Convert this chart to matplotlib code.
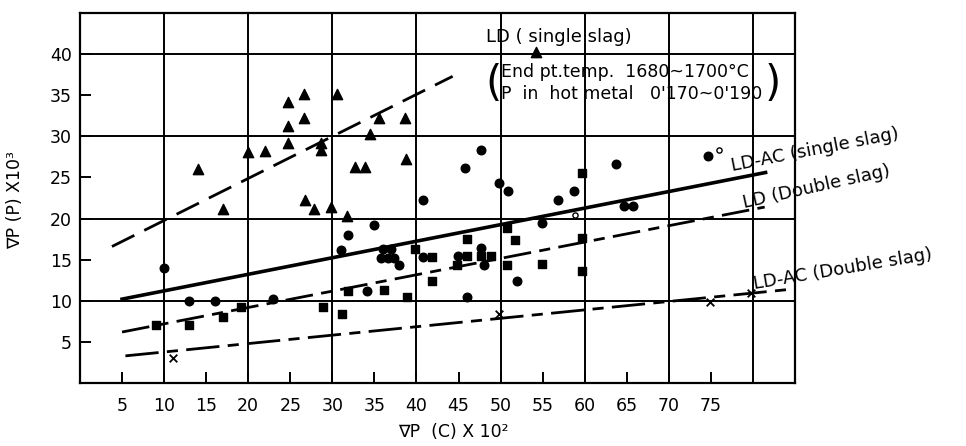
import matplotlib
matplotlib.use('Agg')
from matplotlib import pyplot

# LD (single slag) - triangles
tri_x = [14, 17, 20, 22, 24.7, 24.7, 24.7, 26.6, 26.6, 28.7, 28.7, 26.8, 27.8,
         29.8, 31.8, 30.5, 35.5, 38.6, 34.5, 32.7, 33.9, 38.7]
tri_y = [26, 21.2, 28.1, 28.2, 34.2, 31.3, 29.2, 35.1, 32.2, 29.2, 28.3, 22.3,
         21.2, 21.4, 20.3, 35.1, 32.2, 32.2, 30.3, 26.3, 26.3, 27.2]

# LD-AC (single slag) - circles
circ_x = [10, 13, 16, 23, 40.8, 35, 31.9, 31, 36, 37, 35.8, 36.6, 37.3, 37.9,
          40.8, 34.1, 47.7, 45.8, 49.8, 50.9, 56.8, 58.7, 54.9, 47.7, 44.9, 48,
          52, 46, 63.7, 74.7, 64.7, 65.7]
circ_y = [14, 10, 10, 10.2, 22.2, 19.2, 18, 16.2, 16.3, 16.3, 15.2, 15.2, 15.2,
          14.3, 15.3, 11.2, 28.3, 26.2, 24.3, 23.3, 22.3, 23.4, 19.4, 16.4, 15.4,
          14.4, 12.4, 10.4, 26.6, 27.6, 21.5, 21.5]
open_x = [58.8, 76]
open_y = [20.4, 28.3]

# LD (Double slag) - squares
sq_x = [9, 13, 17, 19.1, 28.9, 31.1, 31.9, 36.1, 38.9, 39.8, 59.7, 50.8, 51.7,
        59.7, 46, 41.9, 46, 47.7, 48.9, 44.8, 50.8, 54.9, 41.9, 59.7]
sq_y = [7, 7, 8, 9.2, 9.2, 8.4, 11.2, 11.3, 10.4, 16.3, 25.6, 18.9, 17.4, 17.6,
        17.5, 15.3, 15.4, 15.4, 15.4, 14.3, 14.4, 14.5, 12.4, 13.6]

# LD-AC (Double slag) - crosses
x_x = [11, 49.8, 74.9, 79.8]
x_y = [3.1, 8.4, 9.8, 10.9]

# fitted lines (end points)
ld_single_x = [3.8, 44.3]
ld_single_y = [16.6, 37.3]
ldac_single_x = [5, 81.5]
ldac_single_y = [10.2, 25.6]
ld_double_x = [5, 81.4]
ld_double_y = [6.2, 21.4]
ldac_double_x = [5.4, 84.5]
ldac_double_y = [3.3, 11.4]

fig = pyplot.figure(figsize=(9.66, 4.46), dpi=100)
ax = fig.add_axes([80 / 966, 1 - 383 / 446, 715 / 966, 370 / 446])
ax.set_xlim(0, 85)
ax.set_ylim(0, 45)

for v in range(10, 81, 10):
    ax.axvline(v, color='black', lw=1.4, zorder=1)
for v in range(10, 41, 10):
    ax.axhline(v, color='black', lw=1.4, zorder=1)

ax.plot(ld_single_x, ld_single_y, color='black', lw=2, ls=(0, (9, 4)))
ax.plot(ldac_single_x, ldac_single_y, color='black', lw=2.6, ls='-')
ax.plot(ld_double_x, ld_double_y, color='black', lw=2, ls=(0, (10, 3, 4, 3)))
ax.plot(ldac_double_x, ldac_double_y, color='black', lw=2, ls=(0, (12, 3, 4, 3)))

ax.scatter(tri_x, tri_y, marker='^', s=55, color='black', zorder=3)
ax.scatter(circ_x, circ_y, marker='o', s=38, color='black', zorder=3)
ax.scatter(open_x, open_y, marker='o', s=14, facecolor='white',
           edgecolor='black', lw=1, zorder=3)
ax.scatter(sq_x, sq_y, marker='s', s=40, color='black', zorder=3)
ax.scatter(x_x, x_y, marker='x', s=30, color='black', lw=1.3, zorder=3)

# legend triangle for LD (single slag)
ax.scatter([54.2], [40.3], marker='^', s=55, color='black', zorder=3,
           clip_on=False)

ax.set_xticks(range(5, 80, 5))
ax.set_yticks(range(5, 41, 5))
ax.tick_params(direction='in', length=8, width=1.4, labelsize=12.5)
ax.tick_params(axis='x', pad=10)
ax.tick_params(axis='y', pad=6)
for s in ax.spines.values():
    s.set_linewidth(1.6)

ax.text(56.9, 42.1, 'LD ( single slag)', fontsize=13, ha='center', va='center')
ax.text(50.0, 37.8, 'End pt.temp.  1680~1700\u00b0C', fontsize=12.5,
        ha='left', va='center')
ax.text(50.0, 35.2, "P  in  hot metal   0'170~0'190", fontsize=12.5,
        ha='left', va='center')
ax.text(49.1, 36.4, '(', fontsize=30, ha='center', va='center')
ax.text(82.3, 36.4, ')', fontsize=30, ha='center', va='center', clip_on=False)

ax.text(87.4, 28.3, 'LD-AC (single slag)', fontsize=13, rotation=11,
        ha='center', va='center', clip_on=False)
ax.text(87.6, 23.9, 'LD (Double slag)', fontsize=13, rotation=12.5,
        ha='center', va='center', clip_on=False)
ax.text(90.7, 13.8, 'LD-AC (Double slag)', fontsize=13, rotation=9.5,
        ha='center', va='center', clip_on=False)

fig.text(453 / 966, 1 - 432 / 446, '\u2207P  (C) X 10\u00b2', fontsize=12.5,
         ha='center', va='center')
fig.text(15 / 966, 1 - 200 / 446, '\u2207P (P) X10\u00b3', fontsize=12.5,
         rotation=90, ha='center', va='center')

fig.savefig('out.png', dpi=100)
